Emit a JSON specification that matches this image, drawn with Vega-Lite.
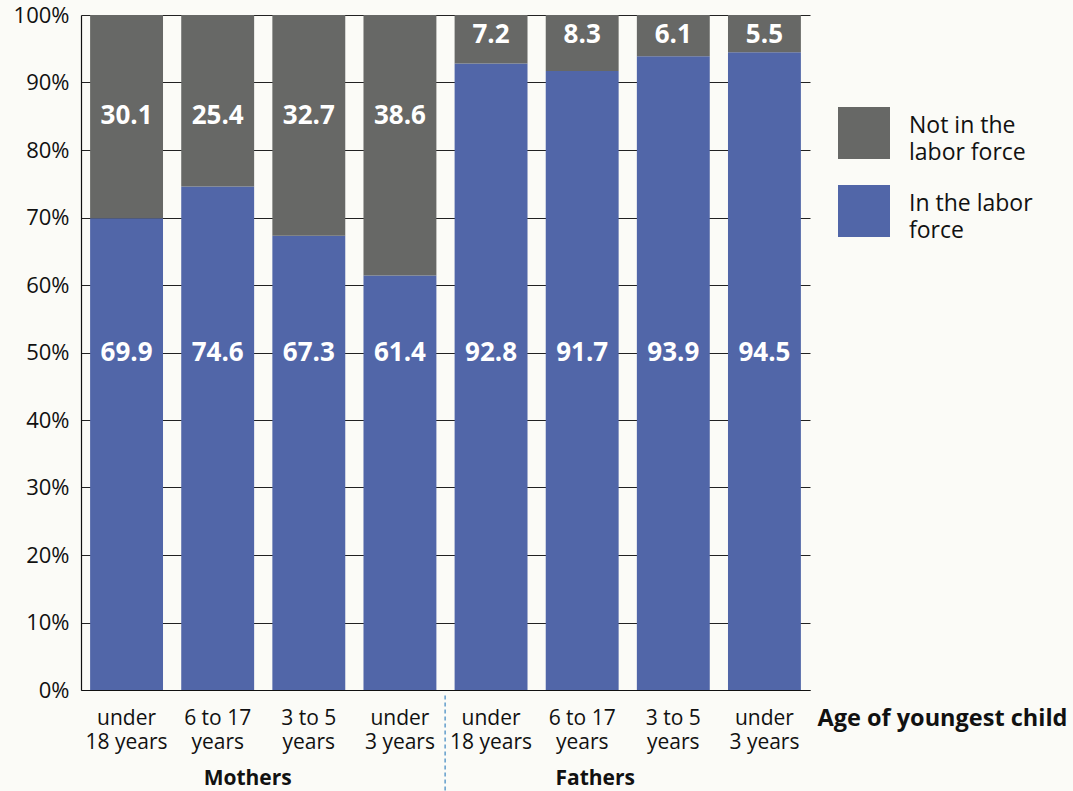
{
  "$schema": "https://vega.github.io/schema/vega-lite/v6.json",
  "width": 729,
  "height": 675,
  "autosize": "none",
  "padding": {"left": 81, "top": 15, "right": 263, "bottom": 101},
  "background": "#fbfbf7",
  "config": {
    "font": "Open Sans",
    "view": {"stroke": null},
    "text": {"font": "Open Sans"},
    "style": {"guide-label": {"lineHeight": 27}}
  },
  "data": {
    "values": [
      {"slot": "M|under|18 years", "group": "Mothers", "status": "In the labor force", "value": 69.9},
      {"slot": "M|under|18 years", "group": "Mothers", "status": "Not in the labor force", "value": 30.1},
      {"slot": "M|6 to 17|years", "group": "Mothers", "status": "In the labor force", "value": 74.6},
      {"slot": "M|6 to 17|years", "group": "Mothers", "status": "Not in the labor force", "value": 25.4},
      {"slot": "M|3 to 5|years", "group": "Mothers", "status": "In the labor force", "value": 67.3},
      {"slot": "M|3 to 5|years", "group": "Mothers", "status": "Not in the labor force", "value": 32.7},
      {"slot": "M|under|3 years", "group": "Mothers", "status": "In the labor force", "value": 61.4},
      {"slot": "M|under|3 years", "group": "Mothers", "status": "Not in the labor force", "value": 38.6},
      {"slot": "F|under|18 years", "group": "Fathers", "status": "In the labor force", "value": 92.8},
      {"slot": "F|under|18 years", "group": "Fathers", "status": "Not in the labor force", "value": 7.2},
      {"slot": "F|6 to 17|years", "group": "Fathers", "status": "In the labor force", "value": 91.7},
      {"slot": "F|6 to 17|years", "group": "Fathers", "status": "Not in the labor force", "value": 8.3},
      {"slot": "F|3 to 5|years", "group": "Fathers", "status": "In the labor force", "value": 93.9},
      {"slot": "F|3 to 5|years", "group": "Fathers", "status": "Not in the labor force", "value": 6.1},
      {"slot": "F|under|3 years", "group": "Fathers", "status": "In the labor force", "value": 94.5},
      {"slot": "F|under|3 years", "group": "Fathers", "status": "Not in the labor force", "value": 5.5}
    ]
  },
  "encoding": {
    "x": {
      "field": "slot",
      "type": "nominal",
      "sort": null,
      "scale": {"paddingInner": 0.2, "paddingOuter": 0.1},
      "axis": {
        "labelExpr": "slice(split(datum.label, '|'), 1)",
        "labelAngle": 0,
        "labelFontSize": 21,
        "labelLineHeight": 24,
        "labelColor": "#111",
        "labelPadding": 17,
        "labelBaseline": "top",
        "ticks": false,
        "domainColor": "#111",
        "domainWidth": 1.2,
        "title": "Age of youngest child",
        "titleFontSize": 23.5,
        "titleFontWeight": "bold",
        "titleColor": "#111",
        "titleAlign": "left",
        "titleBaseline": "middle",
        "titleAnchor": "start",
        "titleX": 736,
        "titleY": 28
      }
    }
  },
  "layer": [
    {
      "mark": {"type": "bar"},
      "encoding": {
        "y": {
          "field": "value",
          "type": "quantitative",
          "stack": "zero",
          "scale": {"domain": [0, 100], "nice": false, "clamp": false},
          "axis": {
            "values": [0, 10, 20, 30, 40, 50, 60, 70, 80, 90, 100],
            "labelExpr": "datum.value + '%'",
            "labelFontSize": 22,
            "labelColor": "#111",
            "labelPadding": 12,
            "ticks": false,
            "domainColor": "#111",
            "domainWidth": 1.2,
            "grid": true,
            "gridColor": "#222",
            "gridWidth": 1,
            "title": null
          }
        },
        "order": {"field": "status", "sort": "ascending"},
        "color": {
          "field": "status",
          "type": "nominal",
          "scale": {
            "domain": ["Not in the labor force", "In the labor force"],
            "range": ["#676866", "#5166a8"]
          },
          "legend": {
            "orient": "none",
            "legendX": 757,
            "legendY": 92,
            "title": null,
            "symbolType": "square",
            "symbolSize": 2704,
            "symbolStrokeWidth": 0,
            "symbolOpacity": 1,
            "labelExpr": "datum.label == 'Not in the labor force' ? ['Not in the', 'labor force'] : ['In the labor', 'force']",
            "labelFontSize": 23,
            "labelColor": "#111",
            "labelOffset": 19,
            "labelLimit": 300,
            "labelBaseline": "alphabetic",
            "rowPadding": 20
          }
        }
      }
    },
    {
      "transform": [{"filter": "datum.status == 'In the labor force'"}],
      "mark": {"type": "text", "color": "white", "fontWeight": "bold", "fontSize": 26, "baseline": "middle"},
      "encoding": {
        "y": {"datum": 50},
        "text": {"field": "value", "type": "quantitative", "format": ".1f"}
      }
    },
    {
      "transform": [{"filter": "datum.status == 'Not in the labor force' && datum.group == 'Mothers'"}],
      "mark": {"type": "text", "color": "white", "fontWeight": "bold", "fontSize": 26, "baseline": "middle"},
      "encoding": {
        "y": {"datum": 85},
        "text": {"field": "value", "type": "quantitative", "format": ".1f"}
      }
    },
    {
      "transform": [{"filter": "datum.status == 'Not in the labor force' && datum.group == 'Fathers'"}],
      "mark": {"type": "text", "color": "white", "fontWeight": "bold", "fontSize": 26, "baseline": "middle"},
      "encoding": {
        "y": {"datum": 97},
        "text": {"field": "value", "type": "quantitative", "format": ".1f"}
      }
    },
    {
      "data": {"values": [{"label": "Mothers"}]},
      "mark": {"type": "text", "color": "#111", "fontWeight": "bold", "fontSize": 21, "baseline": "middle", "dx": 30},
      "encoding": {
        "x": {"datum": "M|6 to 17|years"},
        "y": {"datum": -13.2},
        "text": {"field": "label"}
      }
    },
    {
      "data": {"values": [{"label": "Fathers"}]},
      "mark": {"type": "text", "color": "#111", "fontWeight": "bold", "fontSize": 21, "baseline": "middle", "dx": 13},
      "encoding": {
        "x": {"datum": "F|6 to 17|years"},
        "y": {"datum": -13.2},
        "text": {"field": "label"}
      }
    },
    {
      "data": {"values": [{"label": "sep"}]},
      "mark": {"type": "rule", "color": "#4a8fc4", "strokeWidth": 1.3, "strokeDash": [4, 3], "xOffset": -9.5},
      "encoding": {
        "x": {"datum": "F|under|18 years", "bandPosition": 0},
        "y": {"datum": -0.8},
        "y2": {"datum": -15}
      }
    }
  ]
}
